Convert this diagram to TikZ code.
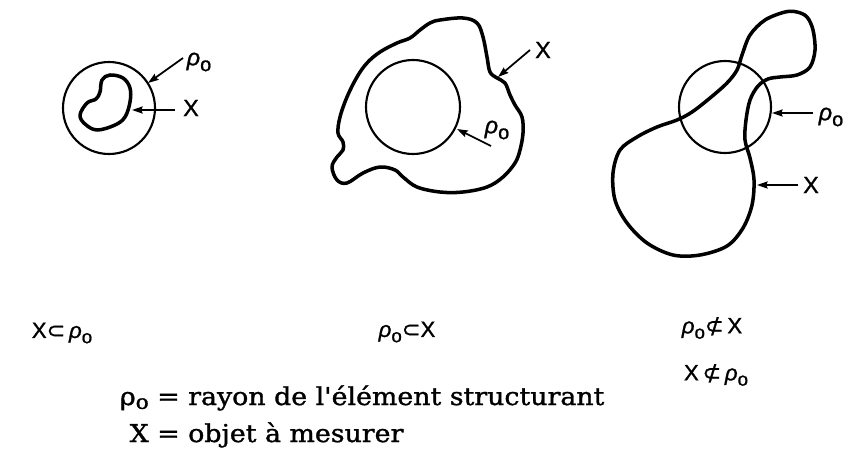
\documentclass[tikz,border=0pt]{standalone}
\usepackage{graphicx}
\usepackage{fontspec}
\setmainfont{DejaVu Serif}
\setsansfont[FakeBold=1]{Liberation Sans}
\newfontfamily\symfont[FakeBold=1]{DejaVu Sans}
\newfontfamily\legfont[FakeBold=1.2]{DejaVu Serif}
\usetikzlibrary{arrows.meta}
\newcommand{\myrho}[2]{{\itshape ρ}\raisebox{-#2}{\fontsize{#1}{#1}\selectfont o}}
\newcommand{\legrho}{ρ\raisebox{-0.3ex}{\fontsize{17}{17}\selectfont o}}
\newcommand{\wide}[1]{\scalebox{1.09}[1]{#1}}
\begin{document}
\begin{tikzpicture}[x=0.03cm,y=-0.03cm,
  blob/.style={line width=3pt, line join=round},
  ring/.style={line width=1.8pt},
  ptr/.style={line width=1.5pt, -{Stealth[length=9pt,width=6pt,inset=1pt]}},
  lab/.style={font=\sffamily\fontsize{20}{22}\selectfont, inner sep=0pt},
  rel/.style={font=\sffamily\fontsize{19}{21}\selectfont, inner sep=0pt},
  leg/.style={font=\legfont\fontsize{21}{24}\selectfont, inner sep=0pt}]
\useasboundingbox (0,0) rectangle (848,468);

% ---------- left figure: X inside rho ----------
\coordinate (c1) at (109,108);
\draw[ring] (c1) circle[radius=46];
\draw[blob] plot[smooth cycle, tension=0.6] coordinates {
  (110,75) (102,80) (100,92) (96,99) (87,103) (80,115) (85,124) (97,130)
  (115,125) (125,117) (130,102) (130,88) (123,78)};
\node[lab] (r1) at (199,62) {\myrho{17pt}{5pt}};
\node[lab] (x1) at (191,108) {X};
\coordinate (r1t) at (183,58);
\coordinate (r1h) at (148,83);
\coordinate (x1t) at (175,110);
\coordinate (x1h) at (132,110);
\draw[ptr] (r1t) -- (r1h);
\draw[ptr] (x1t) -- (x1h);

% ---------- middle figure: rho inside X ----------
\coordinate (c2) at (413,107);
\draw[ring] (c2) circle[radius=47];
\draw[blob] plot[smooth cycle, tension=0.6] coordinates {
  (440,20) (463,18) (477,23) (483,37) (487,57) (490,72) (497,78) (505,83)
  (510,95) (515,105) (522,117) (523,133) (520,150) (515,163) (503,177)
  (487,187) (463,192) (440,192) (417,187) (403,177) (395,170) (380,167)
  (363,173) (347,183) (337,180) (332,167) (337,157) (343,150) (343,142)
  (338,133) (340,117) (347,97) (357,77) (367,63) (380,52) (397,43)
  (410,38) (420,30) (430,23)};
\node[lab] (x2) at (543,50) {X};
\node[lab] (r2) at (497,130) {\myrho{17pt}{5pt}};
\coordinate (x2t) at (530,50);
\coordinate (x2h) at (498,77);
\coordinate (r2t) at (491,146);
\coordinate (r2h) at (457,129);
\draw[ptr] (x2t) -- (x2h);
\draw[ptr] (r2t) -- (r2h);

% ---------- right figure: neither ----------
\coordinate (c3) at (725,107);
\draw[ring] (c3) circle[radius=46];
\draw[blob] plot[smooth cycle, tension=0.55] coordinates {
  (797,12) (807,17) (813,30) (815,50) (810,67) (797,75) (780,77) (768,79)
  (758,86) (750,100) (746,120) (745,140) (750,158) (754,180) (752,205)
  (743,228) (727,246) (700,255) (673,255) (647,243) (627,223) (615,200)
  (613,173) (620,150) (637,137) (657,127) (677,120) (692,112) (710,98)
  (727,83) (737,70) (742,55) (750,35) (765,20) (785,12)};
\node[lab] (r3) at (831,117) {\myrho{17pt}{5pt}};
\node[lab] (x3) at (811,185) {X};
\coordinate (r3t) at (813,113);
\coordinate (r3h) at (772,113);
\coordinate (x3t) at (798,185);
\coordinate (x3h) at (757,185);
\draw[ptr] (r3t) -- (r3h);
\draw[ptr] (x3t) -- (x3h);

% ---------- relations ----------
\node[rel] (e1) at (62,333) {X{\symfont ⊂}\,\myrho{16pt}{4.5pt}};
\node[rel] (e2) at (407,332) {\myrho{16pt}{4.5pt}{\symfont ⊂}X};
\node[rel] (e3) at (712,328) {\myrho{16pt}{4.5pt}{\symfont ⊄}\,X};
\node[rel] (e4) at (716,375) {X\,{\symfont ⊄}\,\myrho{16pt}{4.5pt}};

% ---------- legend ----------
\node[leg, anchor=base east] (l1a) at (180,405) {\wide{\legrho{} =}};
\node[leg, anchor=base west] (l1b) at (188,405) {\wide{rayon de l'élément structurant}};
\node[leg, anchor=base east] (l2a) at (180,442) {\wide{X =}};
\node[leg, anchor=base west] (l2b) at (188,442) {\wide{objet à mesurer}};
\end{tikzpicture}
\end{document}
